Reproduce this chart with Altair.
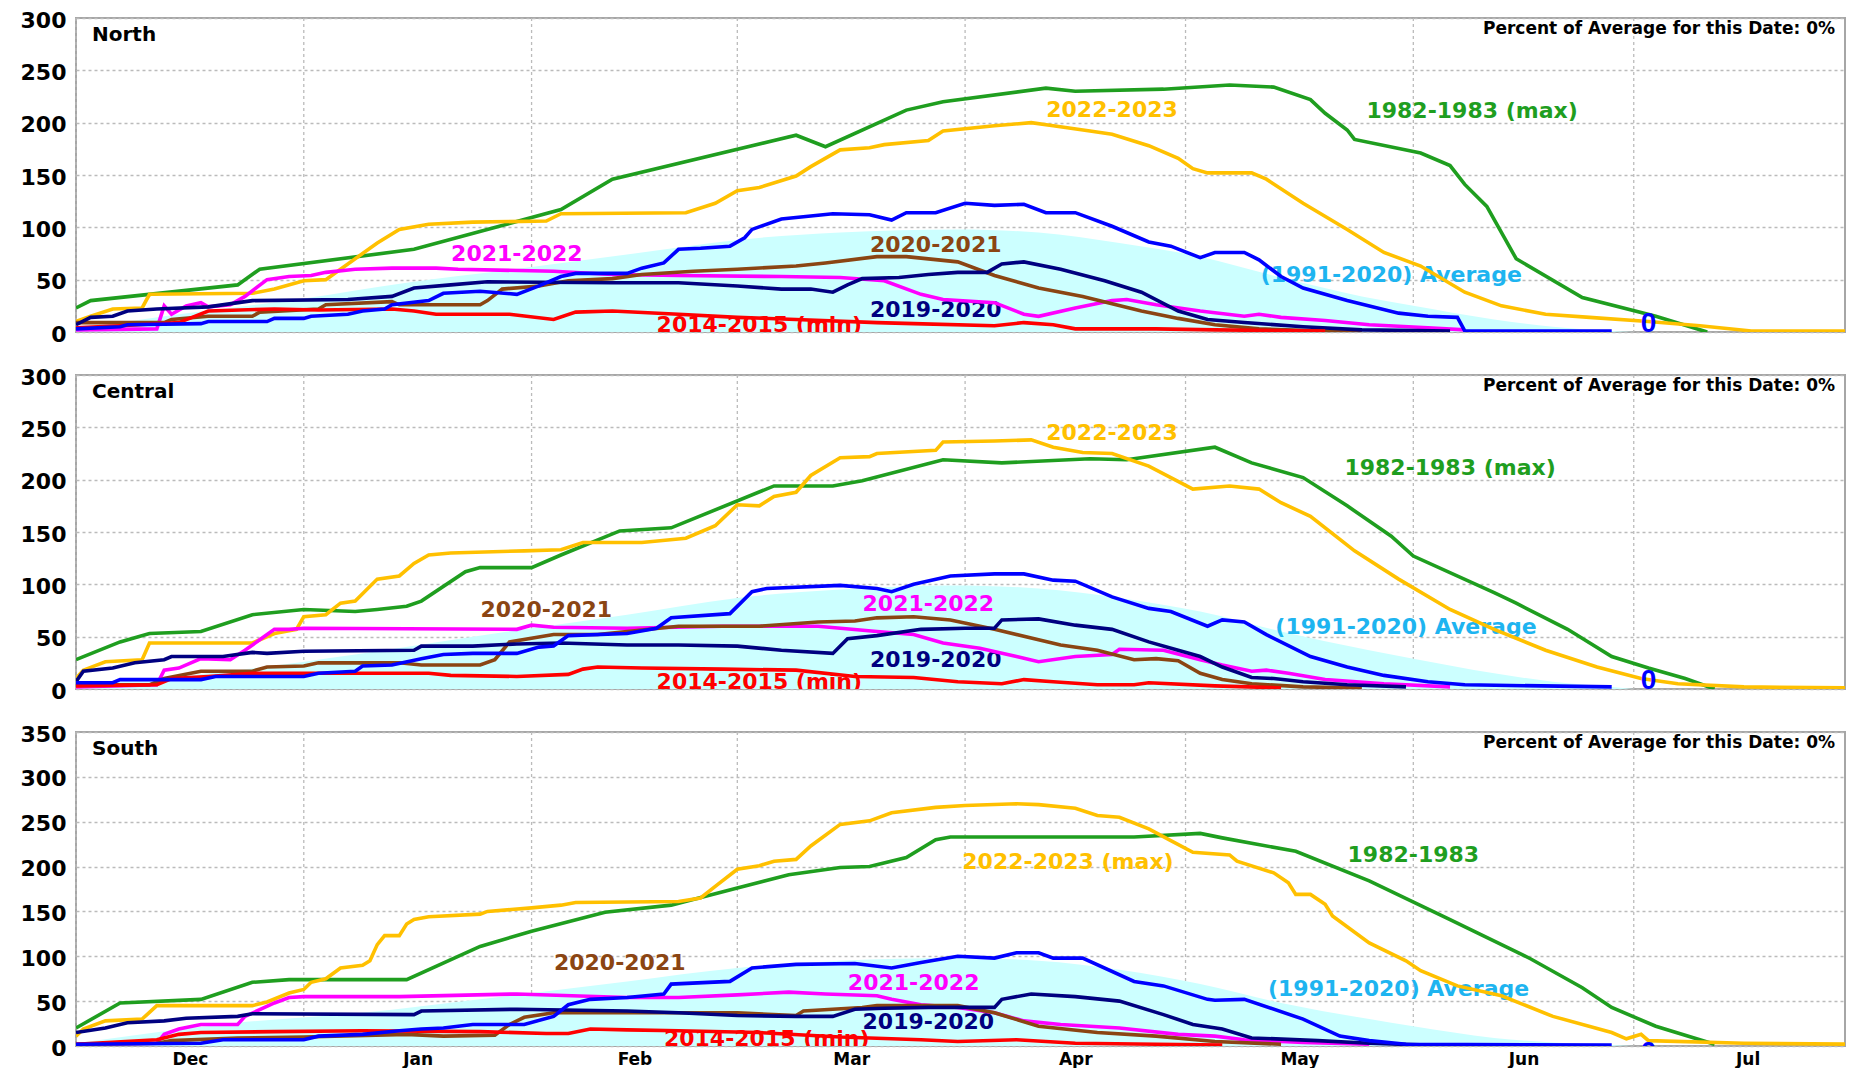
import altair as alt
import pandas as pd

FONT = "DejaVu Sans"

# ---------------- series / colours ----------------
SERIES = ["1982-1983", "2022-2023", "2021-2022", "2020-2021", "2019-2020", "2014-2015", "Current", "Average"]
COLORS = ["#1F9E1F", "#FFC000", "#FF00FF", "#8B4513", "#000080", "#FF0000", "#0000FF", "#1EB4F0"]
DRAW_ORDER = ["1982-1983", "2022-2023", "2021-2022", "2020-2021", "2019-2020", "2014-2015", "Current"]
AVG_FILL = "#CCFFFF"

# ---------------- North ----------------
N_1982 = [("12-01", 23), ("12-03", 30), ("12-23", 45), ("12-26", 60), ("01-16", 79), ("02-05", 117), ("02-12", 146),
          ("03-09", 188), ("03-13", 177), ("03-24", 212), ("03-29", 220), ("04-12", 233), ("04-16", 230), ("04-28", 232),
          ("05-07", 236), ("05-13", 234), ("05-18", 222), ("05-20", 209), ("05-23", 193), ("05-24", 184), ("06-02", 171),
          ("06-06", 159), ("06-08", 141), ("06-11", 120), ("06-15", 70), ("06-24", 33), ("07-04", 15), ("07-11", 0)]
N_2022 = [("12-01", 10), ("12-03", 15), ("12-06", 22), ("12-10", 23), ("12-11", 36), ("12-25", 37), ("12-28", 41),
          ("01-01", 49), ("01-04", 50), ("01-06", 60), ("01-11", 85), ("01-14", 98), ("01-18", 103), ("01-24", 105),
          ("02-03", 106), ("02-05", 113), ("02-22", 114), ("02-26", 123), ("03-01", 135), ("03-04", 138), ("03-09", 149),
          ("03-11", 158), ("03-15", 174), ("03-19", 176), ("03-21", 179), ("03-27", 183), ("03-29", 192), ("04-05", 197),
          ("04-10", 200), ("04-13", 197), ("04-18", 192), ("04-21", 189), ("04-26", 178), ("04-30", 166), ("05-02", 156),
          ("05-04", 152), ("05-10", 152), ("05-12", 146), ("05-17", 123), ("05-23", 98), ("05-28", 76), ("06-02", 63),
          ("06-08", 38), ("06-13", 25), ("06-19", 17), ("06-25", 14), ("07-03", 10), ("07-10", 6), ("07-17", 1), ("07-31", 1)]
N_2021 = [("12-01", 2), ("12-12", 3), ("12-13", 25), ("12-14", 17), ("12-16", 25), ("12-18", 28), ("12-19", 24),
          ("12-22", 26), ("12-24", 34), ("12-27", 50), ("12-30", 53), ("01-02", 54), ("01-04", 57), ("01-08", 60),
          ("01-13", 61), ("01-19", 61), ("01-22", 60), ("02-04", 58), ("02-12", 55), ("02-21", 54), ("03-07", 53),
          ("03-15", 52), ("03-21", 49), ("03-26", 36), ("03-29", 31), ("04-05", 28), ("04-09", 17), ("04-11", 15),
          ("04-16", 23), ("04-21", 30), ("04-23", 31), ("04-27", 26), ("05-03", 20), ("05-09", 15), ("05-11", 17),
          ("05-14", 14), ("05-20", 11), ("05-26", 7), ("06-03", 4), ("06-08", 2)]
N_2020 = [("12-01", 9), ("12-13", 9), ("12-14", 12), ("12-19", 15), ("12-25", 15), ("12-26", 19), ("01-03", 22),
          ("01-04", 26), ("01-13", 29), ("01-14", 26), ("01-25", 26), ("01-26", 30), ("01-28", 41), ("02-02", 44),
          ("02-06", 49), ("02-12", 51), ("02-16", 55), ("02-23", 58), ("03-01", 60), ("03-09", 63), ("03-13", 66),
          ("03-20", 72), ("03-24", 72), ("03-31", 67), ("04-05", 54), ("04-11", 42), ("04-17", 34), ("04-25", 20),
          ("04-30", 13), ("05-05", 7), ("05-11", 3), ("05-20", 1), ("05-25", 1)]
N_2019 = [("12-01", 7), ("12-03", 14), ("12-06", 15), ("12-08", 20), ("12-12", 22), ("12-19", 24), ("12-25", 30),
          ("01-07", 31), ("01-13", 34), ("01-16", 42), ("01-21", 45), ("01-26", 48), ("02-12", 47), ("02-21", 47),
          ("03-01", 44), ("03-07", 41), ("03-11", 41), ("03-14", 38), ("03-16", 45), ("03-18", 51), ("03-23", 52),
          ("03-27", 55), ("03-31", 57), ("04-04", 57), ("04-06", 65), ("04-09", 67), ("04-14", 60), ("04-20", 49),
          ("04-25", 38), ("04-30", 20), ("05-04", 12), ("05-09", 9), ("05-17", 5), ("05-25", 2), ("06-06", 1)]
N_2014 = [("12-01", 4), ("12-07", 6), ("12-15", 9), ("12-19", 20), ("12-28", 22), ("01-03", 21), ("01-13", 22),
          ("01-16", 20), ("01-19", 17), ("01-29", 17), ("02-04", 12), ("02-07", 19), ("02-12", 20), ("02-21", 17),
          ("03-01", 14), ("03-09", 12), ("03-20", 9), ("03-25", 8), ("04-05", 6), ("04-09", 9), ("04-13", 7),
          ("04-16", 3), ("04-27", 3), ("05-05", 2), ("05-20", 1)]
N_CUR = [("12-01", 3), ("12-07", 5), ("12-08", 7), ("12-18", 8), ("12-19", 10), ("12-27", 10), ("12-28", 13),
         ("01-01", 13), ("01-02", 15), ("01-07", 17), ("01-09", 20), ("01-12", 22), ("01-13", 26), ("01-18", 30),
         ("01-20", 37), ("01-25", 39), ("01-30", 36), ("02-02", 44), ("02-05", 53), ("02-07", 56), ("02-14", 56),
         ("02-16", 61), ("02-19", 66), ("02-21", 79), ("02-24", 80), ("02-28", 82), ("03-02", 90), ("03-03", 98),
         ("03-07", 108), ("03-14", 113), ("03-19", 112), ("03-22", 107), ("03-24", 114), ("03-28", 114), ("04-01", 123),
         ("04-05", 121), ("04-09", 122), ("04-12", 114), ("04-16", 114), ("04-21", 101), ("04-26", 86), ("04-29", 82),
         ("05-03", 71), ("05-05", 76), ("05-09", 76), ("05-11", 69), ("05-14", 53), ("05-17", 42), ("05-23", 30),
         ("05-30", 18), ("06-03", 15), ("06-07", 14), ("06-08", 1), ("06-28", 1)]
N_AVG = [("12-01", 3), ("12-15", 17), ("01-01", 32), ("01-15", 47), ("02-01", 62), ("02-15", 75), ("03-01", 88),
         ("03-15", 95), ("03-31", 98), ("04-11", 95), ("04-22", 85), ("05-03", 72), ("05-14", 52), ("05-25", 34),
         ("06-01", 25), ("06-12", 12), ("06-20", 5), ("06-28", 1), ("07-01", 0)]

# ---------------- Central ----------------
C_1982 = [("12-01", 28), ("12-07", 45), ("12-11", 53), ("12-18", 55), ("12-25", 71), ("01-01", 76), ("01-08", 74),
          ("01-11", 76), ("01-15", 79), ("01-17", 84), ("01-23", 112), ("01-25", 116), ("02-01", 116), ("02-05", 128),
          ("02-13", 151), ("02-20", 154), ("03-06", 194), ("03-14", 194), ("03-18", 199), ("03-29", 219), ("04-06", 216),
          ("04-18", 220), ("04-23", 219), ("05-05", 231), ("05-10", 216), ("05-17", 202), ("05-23", 175), ("05-29", 146),
          ("06-01", 127), ("06-12", 92), ("06-15", 82), ("06-22", 57), ("06-28", 31), ("07-03", 20), ("07-08", 10), ("07-12", 0)]
C_2022 = [("12-01", 10), ("12-02", 18), ("12-05", 26), ("12-10", 28), ("12-11", 44), ("12-25", 44), ("12-28", 53),
          ("12-31", 57), ("01-01", 69), ("01-04", 71), ("01-06", 82), ("01-08", 84), ("01-11", 105), ("01-14", 108),
          ("01-16", 120), ("01-18", 128), ("01-21", 130), ("01-31", 132), ("02-05", 133), ("02-08", 140), ("02-16", 140),
          ("02-22", 144), ("02-26", 156), ("03-01", 176), ("03-04", 175), ("03-06", 184), ("03-09", 188), ("03-11", 204),
          ("03-15", 221), ("03-19", 222), ("03-20", 225), ("03-28", 228), ("03-29", 236), ("04-05", 237), ("04-10", 238),
          ("04-13", 231), ("04-17", 226), ("04-21", 225), ("04-26", 213), ("04-29", 202), ("05-02", 191), ("05-07", 194),
          ("05-11", 191), ("05-14", 178), ("05-18", 165), ("05-24", 132), ("05-30", 105), ("06-06", 76), ("06-12", 57),
          ("06-19", 37), ("06-26", 21), ("07-02", 10), ("07-07", 5), ("07-16", 2), ("07-31", 1)]
C_2021 = [("12-01", 2), ("12-12", 4), ("12-13", 18), ("12-15", 20), ("12-18", 29), ("12-22", 28), ("12-24", 37),
          ("12-26", 47), ("12-28", 57), ("12-30", 57), ("01-01", 58), ("01-30", 57), ("02-01", 61), ("02-04", 59),
          ("02-14", 58), ("02-27", 60), ("03-12", 60), ("03-20", 55), ("03-25", 52), ("03-29", 44), ("04-03", 39),
          ("04-08", 31), ("04-11", 26), ("04-16", 31), ("04-21", 33), ("04-22", 38), ("04-28", 37), ("05-03", 28),
          ("05-06", 23), ("05-10", 17), ("05-12", 18), ("05-15", 15), ("05-20", 9), ("05-28", 5), ("06-06", 2)]
C_2020 = [("12-01", 4), ("12-11", 4), ("12-13", 10), ("12-18", 17), ("12-25", 17), ("12-27", 21), ("01-01", 22),
          ("01-03", 25), ("01-14", 25), ("01-17", 23), ("01-25", 23), ("01-27", 28), ("01-29", 45), ("02-04", 52),
          ("02-10", 52), ("02-21", 60), ("03-04", 60), ("03-12", 64), ("03-17", 65), ("03-20", 68), ("03-25", 69),
          ("03-30", 66), ("04-05", 57), ("04-11", 47), ("04-14", 42), ("04-19", 37), ("04-24", 28), ("04-27", 29),
          ("04-30", 27), ("05-03", 15), ("05-06", 9), ("05-10", 5), ("05-17", 2), ("05-25", 1)]
C_2019 = [("12-01", 7), ("12-02", 17), ("12-06", 20), ("12-09", 25), ("12-13", 28), ("12-14", 31), ("12-21", 31),
          ("12-25", 35), ("12-27", 34), ("01-01", 36), ("01-16", 37), ("01-17", 41), ("01-24", 41), ("01-30", 43),
          ("02-05", 44), ("02-14", 42), ("02-21", 42), ("03-01", 41), ("03-07", 37), ("03-14", 34), ("03-16", 48),
          ("03-20", 51), ("03-26", 57), ("04-01", 58), ("04-05", 58), ("04-06", 66), ("04-11", 67), ("04-16", 61),
          ("04-21", 57), ("04-26", 45), ("04-30", 37), ("05-03", 31), ("05-06", 21), ("05-10", 11), ("05-13", 10),
          ("05-17", 7), ("05-23", 4), ("05-31", 2)]
C_2014 = [("12-01", 3), ("12-12", 4), ("12-14", 10), ("12-19", 12), ("12-25", 15), ("01-18", 15), ("01-21", 13),
          ("01-30", 12), ("02-06", 14), ("02-08", 19), ("02-10", 21), ("02-16", 20), ("02-27", 19), ("03-09", 18),
          ("03-17", 12), ("03-25", 11), ("03-31", 7), ("04-06", 5), ("04-09", 9), ("04-13", 7), ("04-19", 4),
          ("04-24", 4), ("04-26", 6), ("05-05", 3), ("05-14", 1)]
C_CUR = [("12-01", 6), ("12-06", 6), ("12-07", 9), ("12-18", 9), ("12-20", 12), ("01-01", 12), ("01-03", 15),
         ("01-08", 17), ("01-09", 22), ("01-13", 23), ("01-17", 29), ("01-20", 33), ("01-24", 34), ("01-30", 34),
         ("02-02", 40), ("02-04", 41), ("02-06", 51), ("02-14", 53), ("02-18", 58), ("02-20", 68), ("02-28", 72),
         ("03-03", 93), ("03-05", 96), ("03-15", 99), ("03-20", 96), ("03-22", 93), ("03-25", 100), ("03-30", 108),
         ("04-05", 110), ("04-09", 110), ("04-13", 104), ("04-16", 103), ("04-21", 88), ("04-26", 77), ("04-29", 74),
         ("05-04", 60), ("05-06", 66), ("05-09", 64), ("05-12", 52), ("05-18", 31), ("05-23", 21), ("05-28", 13),
         ("06-03", 7), ("06-08", 4), ("06-28", 2)]
C_AVG = [("12-01", 4), ("12-23", 18), ("01-08", 33), ("01-24", 50), ("02-14", 71), ("03-01", 87), ("03-15", 95),
         ("03-30", 99), ("04-11", 96), ("04-22", 87), ("05-03", 74), ("05-14", 55), ("05-26", 37), ("06-01", 29),
         ("06-12", 15), ("06-20", 7), ("06-28", 2), ("07-01", 0)]

# ---------------- South ----------------
S_1982 = [("12-01", 20), ("12-07", 48), ("12-18", 52), ("12-25", 71), ("12-30", 74), ("01-15", 74), ("01-25", 111),
          ("02-01", 128), ("02-11", 149), ("02-20", 157), ("03-01", 176), ("03-08", 191), ("03-15", 199), ("03-19", 200),
          ("03-24", 210), ("03-28", 230), ("03-30", 233), ("04-24", 233), ("05-03", 237), ("05-06", 232), ("05-16", 217),
          ("05-26", 184), ("06-06", 141), ("06-17", 97), ("06-24", 65), ("06-28", 43), ("07-04", 22), ("07-12", 2)]
S_2022 = [("12-01", 11), ("12-02", 19), ("12-05", 28), ("12-10", 30), ("12-12", 45), ("12-25", 45), ("12-27", 49),
          ("12-30", 59), ("01-01", 63), ("01-02", 71), ("01-04", 75), ("01-06", 87), ("01-09", 90), ("01-10", 95),
          ("01-11", 113), ("01-12", 123), ("01-14", 123), ("01-15", 136), ("01-16", 141), ("01-18", 144), ("01-25", 147),
          ("01-26", 150), ("02-01", 154), ("02-05", 157), ("02-07", 160), ("02-21", 161), ("02-24", 165), ("02-26", 178),
          ("03-01", 197), ("03-04", 201), ("03-06", 206), ("03-09", 208), ("03-11", 223), ("03-15", 247), ("03-19", 251),
          ("03-22", 260), ("03-28", 266), ("04-01", 268), ("04-08", 270), ("04-11", 269), ("04-16", 265), ("04-19", 257),
          ("04-22", 255), ("04-26", 242), ("04-29", 229), ("05-02", 216), ("05-07", 213), ("05-08", 206), ("05-13", 193),
          ("05-15", 182), ("05-16", 169), ("05-18", 169), ("05-20", 158), ("05-21", 145), ("05-26", 115), ("05-31", 95),
          ("06-02", 84), ("06-07", 67), ("06-13", 56), ("06-20", 33), ("06-28", 15), ("06-30", 8), ("07-02", 13),
          ("07-03", 6), ("07-16", 3), ("07-31", 2)]
S_2021 = [("12-01", 2), ("12-12", 3), ("12-13", 13), ("12-15", 19), ("12-18", 24), ("12-23", 24), ("12-24", 33),
          ("12-28", 48), ("12-30", 54), ("01-01", 55), ("01-14", 55), ("01-30", 58), ("02-14", 54), ("02-21", 54),
          ("03-01", 57), ("03-08", 60), ("03-13", 58), ("03-20", 56), ("03-22", 52), ("03-26", 46), ("03-31", 43),
          ("04-05", 37), ("04-09", 28), ("04-14", 24), ("04-22", 20), ("04-30", 13), ("05-05", 11), ("05-09", 7),
          ("05-17", 4), ("05-26", 2)]
S_2020 = [("12-01", 2), ("12-12", 3), ("12-14", 6), ("12-23", 9), ("01-01", 10), ("01-15", 13), ("01-20", 11),
          ("01-27", 12), ("01-29", 24), ("01-31", 32), ("02-04", 37), ("02-21", 37), ("03-01", 37), ("03-09", 34),
          ("03-10", 39), ("03-18", 43), ("03-20", 45), ("03-31", 45), ("04-05", 37), ("04-11", 22), ("04-19", 15),
          ("04-27", 11), ("05-05", 5), ("05-14", 2)]
S_2019 = [("12-01", 15), ("12-05", 20), ("12-08", 26), ("12-13", 28), ("12-16", 31), ("12-23", 33), ("12-25", 36),
          ("01-16", 35), ("01-17", 39), ("01-30", 41), ("02-14", 39), ("02-21", 37), ("03-01", 34), ("03-09", 33),
          ("03-14", 33), ("03-17", 41), ("03-21", 42), ("03-27", 43), ("04-05", 43), ("04-06", 52), ("04-10", 58),
          ("04-16", 55), ("04-22", 50), ("04-28", 35), ("05-02", 24), ("05-06", 19), ("05-10", 9), ("05-19", 6),
          ("05-26", 3), ("06-03", 1)]
S_2014 = [("12-01", 2), ("12-12", 7), ("12-15", 13), ("12-18", 15), ("12-28", 16), ("01-09", 17), ("01-25", 16),
          ("02-03", 14), ("02-06", 14), ("02-09", 19), ("02-14", 18), ("02-21", 17), ("03-04", 15), ("03-15", 10),
          ("03-26", 7), ("03-31", 5), ("04-08", 7), ("04-16", 3), ("04-27", 2), ("05-06", 1)]
S_CUR = [("12-01", 2), ("12-18", 3), ("12-21", 7), ("01-01", 7), ("01-03", 11), ("01-09", 13), ("01-14", 17),
         ("01-17", 19), ("01-20", 20), ("01-24", 24), ("01-31", 24), ("02-04", 33), ("02-06", 46), ("02-09", 52),
         ("02-14", 54), ("02-19", 58), ("02-20", 69), ("02-28", 72), ("03-03", 87), ("03-09", 91), ("03-17", 92),
         ("03-22", 87), ("03-26", 93), ("03-31", 100), ("04-05", 98), ("04-08", 104), ("04-11", 104), ("04-13", 98),
         ("04-17", 98), ("04-24", 72), ("04-28", 67), ("05-04", 52), ("05-05", 51), ("05-09", 52), ("05-17", 30),
         ("05-22", 11), ("05-26", 6), ("05-31", 2), ("06-28", 1)]
S_AVG = [("12-01", 3), ("12-23", 26), ("01-09", 37), ("01-25", 52), ("02-14", 72), ("03-01", 87), ("03-15", 95),
         ("03-31", 98), ("04-11", 95), ("04-22", 85), ("05-03", 69), ("05-14", 48), ("05-26", 30), ("06-01", 22),
         ("06-12", 9), ("06-20", 4), ("06-28", 1), ("07-01", 0)]

# ---------------- annotations: (text, series, date, value at baseline) ----------------
N_LABELS = [("2022-2023", "2022-2023", "04-21", 205), ("1982-1983 (max)", "1982-1983", "06-09", 204),
            ("2021-2022", "2021-2022", "01-30", 68), ("2020-2021", "2020-2021", "03-28", 76),
            ("(1991-2020) Average", "Average", "05-29", 48), ("2019-2020", "2019-2020", "03-28", 14),
            ("2014-2015 (min)", "2014-2015", "03-04", 0)]
C_LABELS = [("2022-2023", "2022-2023", "04-21", 238), ("1982-1983 (max)", "1982-1983", "06-06", 204),
            ("2020-2021", "2020-2021", "02-03", 69), ("2021-2022", "2021-2022", "03-27", 75),
            ("(1991-2020) Average", "Average", "05-31", 53), ("2019-2020", "2019-2020", "03-28", 21),
            ("2014-2015 (min)", "2014-2015", "03-04", 0)]
S_LABELS = [("2022-2023 (max)", "2022-2023", "04-15", 197), ("1982-1983", "1982-1983", "06-01", 205),
            ("2020-2021", "2020-2021", "02-13", 85), ("2021-2022", "2021-2022", "03-25", 62),
            ("(1991-2020) Average", "Average", "05-30", 56), ("2019-2020", "2019-2020", "03-27", 19),
            ("2014-2015 (min)", "2014-2015", "03-05", 0)]
ZERO_MARK = {"North": 0, "Central": 0, "South": -17}
ZERO_DATE = "07-03"
PCT_TEXT = "Percent of Average for this Date: 0%"

PANELS = [
    ("North", 300, {"1982-1983": N_1982, "2022-2023": N_2022, "2021-2022": N_2021, "2020-2021": N_2020,
                    "2019-2020": N_2019, "2014-2015": N_2014, "Current": N_CUR}, N_AVG, N_LABELS),
    ("Central", 300, {"1982-1983": C_1982, "2022-2023": C_2022, "2021-2022": C_2021, "2020-2021": C_2020,
                      "2019-2020": C_2019, "2014-2015": C_2014, "Current": C_CUR}, C_AVG, C_LABELS),
    ("South", 350, {"1982-1983": S_1982, "2022-2023": S_2022, "2021-2022": S_2021, "2020-2021": S_2020,
                    "2019-2020": S_2019, "2014-2015": S_2014, "Current": S_CUR}, S_AVG, S_LABELS),
]

MONTH_STARTS = ["12-01", "01-01", "02-01", "03-01", "04-01", "05-01", "06-01", "07-01"]

W = 1769
H = 314


def to_date(md):
    m = int(md[:2])
    return pd.Timestamp(f"{2022 if m == 12 else 2023}-{md}")


X_DOMAIN = [alt.DateTime(year=2022, month=12, date=1), alt.DateTime(year=2023, month=7, date=29, hours=18)]
MID_MONTHS = [alt.DateTime(year=2022, month=12, date=16, hours=12), alt.DateTime(year=2023, month=1, date=16, hours=12),
              alt.DateTime(year=2023, month=2, date=15), alt.DateTime(year=2023, month=3, date=16, hours=12),
              alt.DateTime(year=2023, month=4, date=16), alt.DateTime(year=2023, month=5, date=16, hours=12),
              alt.DateTime(year=2023, month=6, date=16), alt.DateTime(year=2023, month=7, date=16, hours=12)]

COLOR = alt.Color("series:N", scale=alt.Scale(domain=SERIES, range=COLORS), legend=None)


def build_panel(name, ymax, series, avg, labels, show_x):
    rows = []
    for key, pts in series.items():
        for d, v in pts:
            rows.append({"series": key, "date": to_date(d), "value": v})
    df = pd.DataFrame(rows)
    avg_df = pd.DataFrame({"date": [to_date(d) for d, _ in avg], "value": [v for _, v in avg]})
    lab_df = pd.DataFrame({"text": [t for t, _, _, _ in labels], "series": [s for _, s, _, _ in labels],
                           "date": [to_date(d) for _, _, d, _ in labels], "value": [v for _, _, _, v in labels]})
    zero_df = pd.DataFrame({"text": ["0"], "series": ["Current"], "date": [to_date(ZERO_DATE)],
                            "value": [ZERO_MARK[name]]})
    grid_df = pd.DataFrame({"date": [to_date(d) for d in MONTH_STARTS]})

    if show_x:
        x_axis = alt.Axis(values=MID_MONTHS, format="%b", title=None, grid=False, ticks=False, domain=False,
                          labelFont=FONT, labelFontSize=17, labelFontWeight="bold", labelColor="black",
                          labelPadding=5)
    else:
        x_axis = None
    X = alt.X("date:T", scale=alt.Scale(domain=X_DOMAIN, nice=False), axis=x_axis)
    Y = alt.Y("value:Q", scale=alt.Scale(domain=[0, ymax], nice=False),
              axis=alt.Axis(values=list(range(0, ymax + 1, 50)), title=None, grid=True, gridDash=[3, 3],
                            gridColor="#BBBBBB", gridWidth=1.3, domain=False, ticks=False, labelFont=FONT,
                            labelFontSize=22, labelFontWeight="bold", labelColor="black", labelPadding=10,
                            labelOffset=2))

    grid = alt.Chart(grid_df).mark_rule(color="#BBBBBB", strokeDash=[3, 3], strokeWidth=1.3).encode(x=X)
    area = alt.Chart(avg_df).mark_area(color=AVG_FILL, interpolate="monotone", opacity=1).encode(x=X, y=Y)
    texts = alt.Chart(lab_df).mark_text(font=FONT, fontSize=22, fontWeight="bold", align="center",
                                        baseline="alphabetic", clip=True).encode(
        x=X, y=Y, text="text:N", color=COLOR)
    lines = [alt.Chart(df).transform_filter(alt.datum.series == s)
             .mark_line(strokeWidth=3.6, clip=True).encode(x=X, y=Y, color=COLOR) for s in DRAW_ORDER]
    zero = alt.Chart(zero_df).mark_text(font="Liberation Sans", fontSize=28, fontWeight="bold", align="center",
                                        baseline="alphabetic", clip=True).encode(
        x=X, y=Y, text="text:N", color=COLOR)
    title = alt.Chart(pd.DataFrame({"text": [name]})).mark_text(
        align="left", baseline="middle", font=FONT, fontSize=20, fontWeight="bold", color="black").encode(
        x=alt.value(16), y=alt.value(17), text="text:N")
    pct = alt.Chart(pd.DataFrame({"text": [PCT_TEXT]})).mark_text(
        align="right", baseline="middle", font=FONT, fontSize=17, fontWeight="bold", color="black").encode(
        x=alt.value(W - 10), y=alt.value(11), text="text:N")

    return alt.layer(grid, area, texts, *lines, zero, title, pct).properties(width=W, height=H)


panels = [build_panel(n, ym, s, a, l, i == len(PANELS) - 1) for i, (n, ym, s, a, l) in enumerate(PANELS)]

chart = alt.vconcat(*panels, spacing=43, bounds="flush").properties(
    padding={"left": 11, "top": 0, "right": 0, "bottom": 0}, background="white"
).configure_view(stroke="#A6A6A6", strokeWidth=2)

chart.save("out.html", embed_options={"renderer": "svg", "actions": False})
